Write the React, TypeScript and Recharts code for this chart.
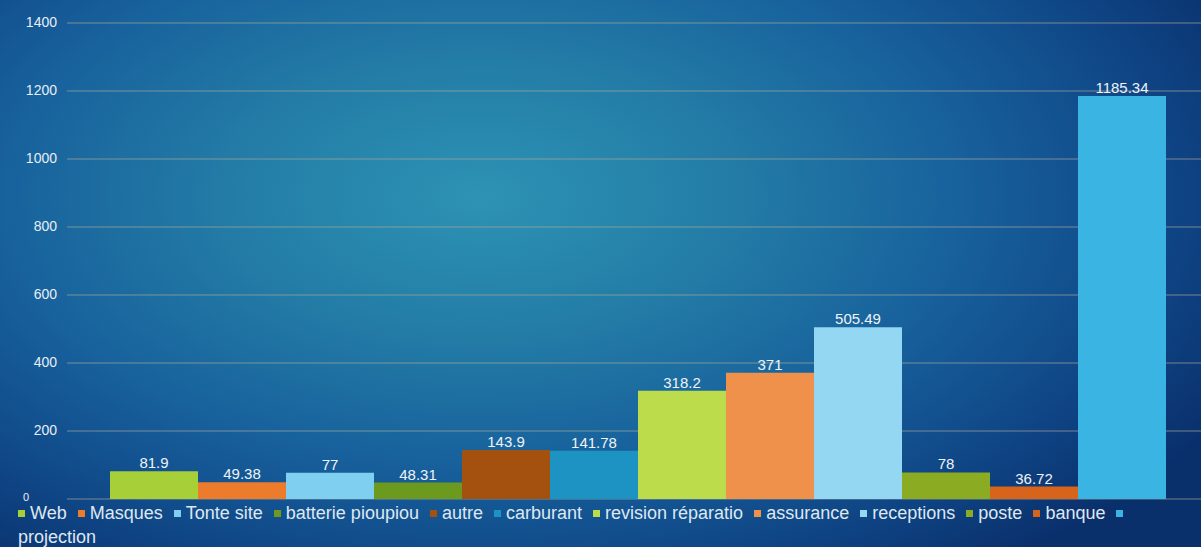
import React from "react";
import { BarChart, Bar, YAxis, XAxis, CartesianGrid, Legend, LabelList } from "recharts";

const seriesNames = [
  "Web", "Masques", "Tonte site", "batterie pioupiou", "autre", "carburant",
  "revision réparatio", "assurance", "receptions", "poste", "banque", "projection",
];
const seriesValues = [81.9, 49.38, 77, 48.31, 143.9, 141.78, 318.2, 371, 505.49, 78, 36.72, 1185.34];
const seriesColors = [
  "#a6cf38", "#ec7b2c", "#7fd0f0", "#6c9a1e", "#a4500f", "#1d93c4",
  "#bcdc4c", "#f0914b", "#93d7f3", "#8aab22", "#d8641b", "#39b4e3",
];
const yTicks = [0, 200, 400, 600, 800, 1000, 1200, 1400];

const row: Record<string, any> = { name: "" };
seriesNames.forEach((n, i) => (row[n] = seriesValues[i]));
const chartData = [row];

// the zero label sits lower-left in the original, squeezed next to the legend
const YTick = ({ x, y, payload }: any) => {
  if (payload.value === 0) {
    return (
      <text x={23} y={y - 1} fill="#e8eef4" fontSize={11} dominantBaseline="middle">
        0
      </text>
    );
  }
  return (
    <text x={x} y={y} fill="#e8eef4" fontSize={14} textAnchor="end" dominantBaseline="middle">
      {payload.value}
    </text>
  );
};

const LegendContent = () => (
  <div
    style={{
      width: 1201,
      boxSizing: "border-box",
      paddingLeft: 18,
      paddingTop: 2,
      fontFamily: "'Liberation Sans', Arial, sans-serif",
      fontSize: 18,
      lineHeight: "24px",
      color: "#dfe8f0",
      textAlign: "left",
    }}
  >
    {seriesNames.map((n, i) => (
      <React.Fragment key={n}>
        <span
          style={{
            display: "inline-block",
            width: 7,
            height: 7,
            background: seriesColors[i],
            marginRight: 5,
            verticalAlign: "middle",
            position: "relative",
            top: -1,
          }}
        />
        <span style={{ marginRight: 6 }}>{n}</span>{" "}
      </React.Fragment>
    ))}
  </div>
);

export default function App() {
  return (
    <div
      style={{
        width: 1201,
        height: 547,
        position: "absolute",
        left: 0,
        top: 0,
        overflow: "hidden",
        background:
          "radial-gradient(ellipse 70% 85% at 40% 36%, #2d93b4 0%, #237ca6 30%, #17609c 58%, #0f4585 82%, #0a306c 100%)",
        fontFamily: "'Liberation Sans', Arial, sans-serif",
      }}
    >
      <style>{`body{margin:0}`}</style>
      <BarChart
        width={1207}
        height={547}
        data={chartData}
        margin={{ top: 23, right: 0, left: 0, bottom: 0 }}
        barGap={0}
        barCategoryGap={43}
      >
        <CartesianGrid vertical={false} stroke="rgba(170,170,150,0.45)" strokeWidth={1.5} />
        <XAxis dataKey="name" hide />
        <YAxis
          width={67}
          domain={[0, 1400]}
          ticks={yTicks}
          axisLine={false}
          tickLine={false}
          tickMargin={4}
          tick={<YTick />}
        />
        <Legend verticalAlign="bottom" height={48} content={<LegendContent />} />
        {seriesNames.map((n, i) => (
          <Bar key={n} dataKey={n} fill={seriesColors[i]} isAnimationActive={false}>
            <LabelList dataKey={n} position="top" offset={3} fill="#eef3f7" fontSize={15} />
          </Bar>
        ))}
      </BarChart>
    </div>
  );
}
